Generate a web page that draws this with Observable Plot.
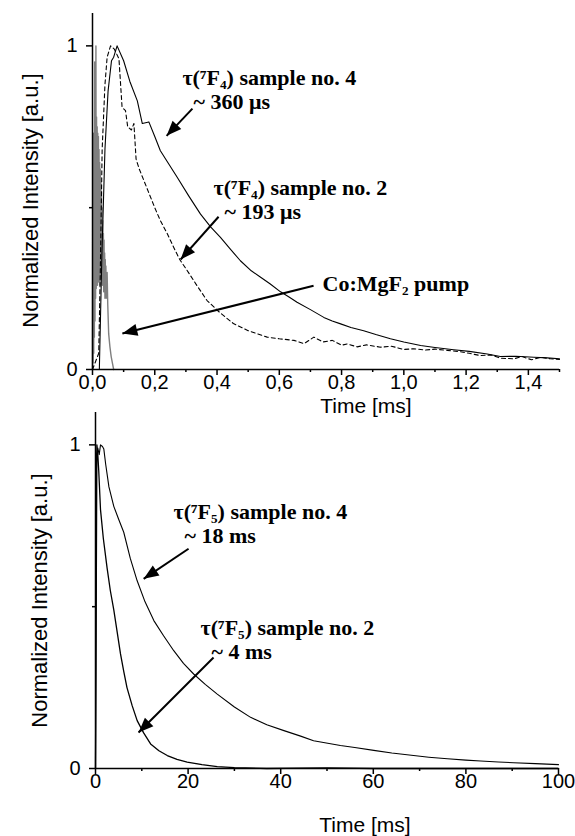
<!DOCTYPE html>
<html><head><meta charset="utf-8">
<script src="https://cdn.jsdelivr.net/npm/d3@7"></script>
<script src="https://cdn.jsdelivr.net/npm/@observablehq/plot@0.6"></script>
<style>
html,body{margin:0;padding:0;background:#fff;}
#wrap{position:relative;width:575px;height:836px;overflow:hidden;background:#fff;}
#wrap svg{position:absolute;left:0;}
</style></head><body><div id="wrap"></div>
<script>
// ---------- DATA: top panel (Time [ms], 0–1.5) ----------
const s4Time = [0,0.022,0.03,0.04,0.05,0.061,0.068,0.079,0.1,0.12,0.144,0.16,0.181,0.2,0.218,0.245,0.272,0.31,0.347,0.38,0.411,0.44,0.475,0.51,0.54,0.57,0.604,0.63,0.657,0.7,0.743,0.77,0.797,0.83,0.871,0.91,0.957,1.0,1.054,1.1,1.16,1.21,1.268,1.31,1.36,1.418,1.46,1.5];
const s4Int  = [0,0.0,0.35,0.68,0.86,0.954,0.965,1.0,0.954,0.89,0.83,0.76,0.765,0.72,0.676,0.635,0.594,0.535,0.48,0.44,0.408,0.375,0.336,0.305,0.285,0.265,0.24,0.225,0.208,0.185,0.161,0.15,0.141,0.13,0.12,0.108,0.095,0.085,0.074,0.068,0.061,0.056,0.048,0.040,0.041,0.038,0.036,0.033];

const s2Time = [0,0.02,0.025,0.031,0.04,0.047,0.058,0.07,0.085,0.095,0.106,0.113,0.125,0.133,0.14,0.15,0.175,0.2,0.218,0.24,0.261,0.28,0.304,0.335,0.368,0.41,0.454,0.5,0.561,0.6,0.647,0.68,0.711,0.74,0.77,0.8,0.818,0.85,0.88,0.925,0.96,1.0,1.032,1.07,1.1,1.14,1.18,1.21,1.246,1.28,1.31,1.353,1.38,1.41,1.44,1.47,1.5];
const s2Int  = [0,0.05,0.3,0.68,0.88,0.965,1.0,0.99,0.96,0.81,0.80,0.75,0.74,0.76,0.65,0.62,0.56,0.5,0.46,0.42,0.377,0.34,0.306,0.26,0.213,0.175,0.141,0.12,0.1,0.095,0.09,0.08,0.1,0.085,0.09,0.075,0.079,0.07,0.076,0.069,0.072,0.062,0.064,0.06,0.063,0.059,0.055,0.05,0.043,0.045,0.035,0.033,0.04,0.03,0.038,0.033,0.031];

const pumpTime = [0.000,0.001,0.002,0.003,0.004,0.005,0.006,0.007,0.008,0.009,0.010,0.011,0.012,0.013,0.014,0.015,0.016,0.017,0.018,0.019,0.020,0.021,0.022,0.023,0.024,0.025,0.026,0.027,0.028,0.029,0.030,0.031,0.032,0.033,0.034,0.035,0.036,0.037,0.038,0.039,0.040,0.041,0.042,0.043,0.044,0.045,0.046,0.047,0.049,0.052,0.056,0.060,0.064,0.068];
const pumpInt  = [0.00,0.70,0.02,0.73,0.05,0.72,0.10,0.95,0.15,0.74,0.22,1.00,0.25,0.78,0.28,0.75,0.26,0.73,0.30,0.72,0.27,0.68,0.30,0.64,0.26,0.62,0.30,0.58,0.28,0.55,0.30,0.50,0.26,0.46,0.28,0.42,0.24,0.40,0.26,0.36,0.22,0.34,0.24,0.32,0.22,0.30,0.25,0.30,0.20,0.11,0.07,0.04,0.02,0.00];

// ---------- DATA: bottom panel (Time [ms], 0–100) ----------
const slowTime = [0,0.2,0.5,0.8,1.08,1.5,1.8,2.2,2.9,3.95,5,6.1,7.5,9,10.7,12.6,14.7,16.9,19,21.2,23.7,26.3,30,33.5,37,40.7,44.3,47.1,52.9,56,60.1,64,68.7,72,76,80,83.2,87,90.3,95,100];
const slowInt  = [0,0.97,0.99,0.97,1.0,0.995,0.987,0.94,0.87,0.81,0.77,0.73,0.65,0.58,0.515,0.457,0.41,0.364,0.325,0.292,0.26,0.23,0.19,0.158,0.135,0.117,0.10,0.086,0.071,0.065,0.056,0.048,0.04,0.035,0.03,0.026,0.023,0.02,0.018,0.015,0.012];

const fastTime = [0,0.15,0.3,0.5,0.7,1.08,1.7,2.5,3.2,3.95,4.7,5.4,6.1,6.8,7.9,9.0,10.4,11.9,13.7,15.5,17.6,19.8,23,26.3,30,37,50,60,80,100];
const fastInt  = [0,0.5,1.0,0.97,0.92,0.80,0.71,0.62,0.55,0.49,0.42,0.354,0.30,0.25,0.195,0.148,0.11,0.076,0.055,0.04,0.028,0.02,0.012,0.006,0.003,0.0,0.002,0.0,0.0,0.0];

// ---------- tick values / labels ----------
const topMajorX = [0,0.2,0.4,0.6,0.8,1.0,1.2,1.4];
const topMinorX = [0.1,0.3,0.5,0.7,0.9,1.1,1.3,1.5];
const botMajorX = [0,20,40,60,80,100];
const botMinorX = [10,30,50,70,90];
const majorY = [0,1];
const minorY = [0.5];
const xTitle = "Time [ms]";
const yTitle = "Normalized Intensity [a.u.]";

// annotation texts (first line, second line)
const topNoteLines = [["τ(⁷F₄) sample no. 4", "~ 360 μs"], ["τ(⁷F₄) sample no. 2", "~ 193 μs"], ["Co:MgF₂ pump"]];
const botNoteLines = [["τ(⁷F₅) sample no. 4", "~ 18 ms"], ["τ(⁷F₅) sample no. 2", "~ 4 ms"]];

// ---------- layout (annotation placement in data units) ----------
const topNotePos = [[0.289,0.866],[0.389,0.525],[0.739,0.265]];
const botNotePos = [[16.85,0.759],[22.7,0.40]];
const topArrows = [
  {x1:0.321,y1:0.806,x2:0.238,y2:0.722},
  {x1:0.405,y1:0.472,x2:0.283,y2:0.34},
  {x1:0.71,y1:0.259,x2:0.096,y2:0.111}
];
const botArrows = [
  {x1:20.1,y1:0.679,x2:10.4,y2:0.586},
  {x1:25.5,y1:0.343,x2:9.3,y2:0.111}
];

const W = 575;
const sans = "'Liberation Sans', Arial, Helvetica, sans-serif";
const serif = "'Liberation Serif', 'Times New Roman', serif";
const indent = "\u00a0\u00a0";
const zipXY = (xs, ys) => xs.map((x, i) => ({x, y: ys[i]}));
const notes = (lines, pos) => lines.map((ls, i) => ({
  text: ls.map((l, j) => (j > 0 ? indent : "") + l).join("\n"), x: pos[i][0], y: pos[i][1]}));
const fmtComma = d => d.toFixed(1).replace(".", ",");

const headShape = {draw(ctx, l) { ctx.moveTo(0, -l); ctx.lineTo(-6, 0); ctx.lineTo(6, 0); ctx.closePath(); }};

function arrowMarks(arrows, sx, sy) {
  return [
    Plot.link(arrows, {x1: "x1", y1: "y1", x2: "x2", y2: "y2", stroke: "black", strokeWidth: 2}),
    Plot.vector(arrows, {x: "x2", y: "y2", length: 15, anchor: "end", shape: headShape, fill: "black", stroke: "none",
      rotate: d => {
        const dx = sx.apply(d.x2) - sx.apply(d.x1), dy = sy.apply(d.y2) - sy.apply(d.y1);
        return Math.atan2(dx, -dy) * 180 / Math.PI;
      }})
  ];
}

function panel({height, mt, mb, ml, mr, xDomain, majorX, minorX, fmtX, lines, arrows, noteData, xLabelDx, xLabelDy, yLabelDx, yLabelDy}) {
  const xOpt = {domain: xDomain, range: [ml, W - mr]};
  const yOpt = {domain: [0, 1.1], range: [height - mb, mt]};
  const sx = Plot.scale({x: xOpt});
  const sy = Plot.scale({y: yOpt});
  return Plot.plot({
    width: W, height,
    marginTop: mt, marginBottom: mb, marginLeft: ml, marginRight: mr,
    x: {domain: xDomain},
    y: {domain: [0, 1.1]},
    style: {fontFamily: sans, fontSize: "20px", background: "transparent", overflow: "visible", color: "black"},
    marks: [
      ...lines,
      Plot.ruleX([xDomain[0]], {stroke: "black", strokeWidth: 1.5}),
      Plot.ruleY([0], {stroke: "black", strokeWidth: 1.5}),
      Plot.axisX(majorX, {tickSize: 6, tickPadding: -1, tickFormat: fmtX, label: null, strokeWidth: 1.5, fontSize: 20}),
      Plot.axisX(minorX, {tickSize: 3, tickFormat: () => "", label: null, strokeWidth: 1.5}),
      Plot.axisY(majorY, {tickSize: 6, tickPadding: 9, tickFormat: d => String(d), label: null, strokeWidth: 1.5, fontSize: 20}),
      Plot.axisY(minorY, {tickSize: 3, tickFormat: () => "", label: null, strokeWidth: 1.5}),
      Plot.text([xTitle], {frameAnchor: "bottom", textAnchor: "middle", lineAnchor: "middle", dx: xLabelDx, dy: xLabelDy, fontSize: 21, fontFamily: sans, fill: "black"}),
      Plot.text([yTitle], {frameAnchor: "left", textAnchor: "middle", lineAnchor: "middle", rotate: -90, dx: yLabelDx, dy: yLabelDy, fontSize: 22, fontFamily: sans, fill: "black"}),
      ...arrowMarks(arrows, sx, sy),
      Plot.text(noteData, {x: "x", y: "y", text: "text", textAnchor: "start", lineAnchor: "middle", lineHeight: 1.1,
        fontFamily: serif, fontWeight: "bold", fontSize: 22, fill: "black"})
    ]
  });
}

const topPlot = panel({
  height: 440, mt: 13, mb: 71, ml: 92, mr: 16,
  xDomain: [0, 1.5], majorX: topMajorX, minorX: topMinorX, fmtX: fmtComma,
  lines: [
    Plot.line(zipXY(pumpTime, pumpInt), {x: "x", y: "y", stroke: "#7f7f7f", strokeWidth: 1.4}),
    Plot.line(zipXY(s2Time, s2Int), {x: "x", y: "y", stroke: "black", strokeWidth: 1.1, strokeDasharray: "4,3"}),
    Plot.line(zipXY(s4Time, s4Int), {x: "x", y: "y", stroke: "black", strokeWidth: 1.1})
  ],
  arrows: topArrows,
  noteData: notes(topNoteLines, topNotePos),
  xLabelDx: 40, xLabelDy: 37, yLabelDx: -62, yLabelDy: 9
});
topPlot.style.top = "0px";

const botPlot = panel({
  height: 436, mt: 12, mb: 68, ml: 95, mr: 17,
  xDomain: [0, 100], majorX: botMajorX, minorX: botMinorX, fmtX: d => String(d),
  lines: [
    Plot.line(zipXY(fastTime, fastInt), {x: "x", y: "y", stroke: "black", strokeWidth: 1.3}),
    Plot.line(zipXY(slowTime, slowInt), {x: "x", y: "y", stroke: "black", strokeWidth: 1.1})
  ],
  arrows: botArrows,
  noteData: notes(botNoteLines, botNotePos),
  xLabelDx: 38, xLabelDy: 57, yLabelDx: -56, yLabelDy: 10
});
botPlot.style.top = "400px";

const wrap = document.getElementById("wrap");
wrap.appendChild(topPlot);
wrap.appendChild(botPlot);
</script>
</body></html>
